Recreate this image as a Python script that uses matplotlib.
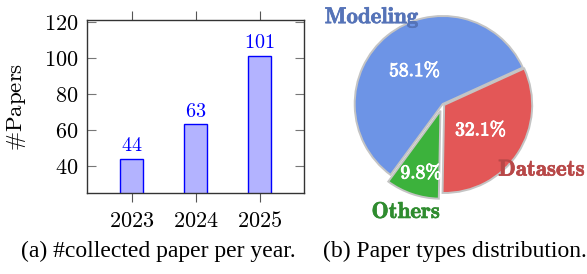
import matplotlib
matplotlib.use("Agg")
import matplotlib.pyplot as plt
import matplotlib.patheffects as pe
import numpy as np

plt.rcParams["mathtext.fontset"] = "cm"

# ---- data ----
years = [2023, 2024, 2025]
papers = [44, 63, 101]
yticks = [40, 60, 80, 100, 120]

categories = ["Modeling", "Others", "Datasets"]
shares = [58.1, 9.8, 32.1]
explode = [0.0, 0.08, 0.02]
slice_colors = ["#6d94e6", "#3cb23c", "#e35757"]
label_colors = ["#5573b8", "#2f8c2f", "#b84848"]

W, H = 587, 274
fig = plt.figure(figsize=(W / 100, H / 100), dpi=100)

def px_axes(x0, y0, x1, y1):
    return fig.add_axes([x0 / W, 1 - y1 / H, (x1 - x0) / W, (y1 - y0) / H])

def rm(s):
    return r"$\mathrm{" + s + "}$"

def bf(s):
    return r"$\mathbf{" + s.replace("%", r"\%") + "}$"

# ---- bar chart ----
ax = px_axes(86.7, 20, 304.3, 193.3)
ax.bar(years, papers, width=0.35, color="#b3b3ff", edgecolor="#0000ff", linewidth=1.0, zorder=2)
for x, v in zip(years, papers):
    ax.annotate(rm(str(v)), (x, v), xytext=(0, 2.5), textcoords="offset points",
                ha="center", va="bottom", color="#0000ff", fontsize=14.5)
ax.set_xlim(2022.3, 2025.7)
ax.set_ylim(24.7, 120.9)
ax.set_xticks(years)
ax.set_xticklabels([rm(str(y)) for y in years], fontsize=16)
ax.set_yticks(yticks)
ax.set_yticklabels([rm(str(t)) for t in yticks], fontsize=16)
ax.tick_params(axis="x", direction="out", top=True, bottom=True, length=6.5, width=0.8,
               color="#555555", pad=6.5)
ax.tick_params(axis="y", direction="in", left=True, right=True, length=6.5, width=0.8,
               color="#777777", pad=6)
for sp in ax.spines.values():
    sp.set_color("#333333")
    sp.set_linewidth(1.0)
ax.set_ylabel(r"$\#\mathrm{Papers}$", fontsize=16.5)
ax.yaxis.set_label_coords(-0.27, 0.5)

fig.text(158 / W, 1 - 251 / H, "(a) #collected paper per year.", ha="center", va="center",
         family="Liberation Serif", fontsize=17)

# ---- pie chart ----
s = 88.0
cx, cy = 442.7, 104.0
pax = px_axes(310, 0, 587, 230)
wedges, texts, autotexts = pax.pie(
    shares, labels=[bf(c) for c in categories], explode=explode, colors=slice_colors,
    startangle=24.5, counterclock=True, autopct=lambda p: bf(f"{p:.1f}%"),
    pctdistance=0.5, labeldistance=1.3,
    wedgeprops=dict(edgecolor="#c4c4c4", linewidth=1.4),
)
label_dist = [1.27, 1.21, 1.33]
for t, c, w, d in zip(texts, label_colors, wedges, label_dist):
    a = np.deg2rad((w.theta1 + w.theta2) / 2)
    t.set_position((w.center[0] + d * np.cos(a), w.center[1] + d * np.sin(a)))
    t.set_ha("center"); t.set_va("center")
    t.set_color(c); t.set_fontsize(16.5)
    t.set_path_effects([pe.withStroke(linewidth=0.5, foreground=c)])
for t in autotexts:
    t.set_ha("center"); t.set_va("center")
    t.set_color("white"); t.set_fontsize(14)
    t.set_path_effects([pe.withStroke(linewidth=0.7, foreground="white")])
w_small = wedges[1]
mid = np.deg2rad((w_small.theta1 + w_small.theta2) / 2 + 1.5)
c0 = w_small.center
autotexts[1].set_position((c0[0] + 0.73 * np.cos(mid), c0[1] + 0.73 * np.sin(mid)))
pax.set_aspect("auto")
pax.set_xlim((310 - cx) / s, (587 - cx) / s)
pax.set_ylim((cy - 230) / s, cy / s)
pax.axis("off")

fig.text(454.5 / W, 1 - 251 / H, "(b) Paper types distribution.", ha="center", va="center",
         family="Liberation Serif", fontsize=17)

fig.savefig("out.png", dpi=100)
